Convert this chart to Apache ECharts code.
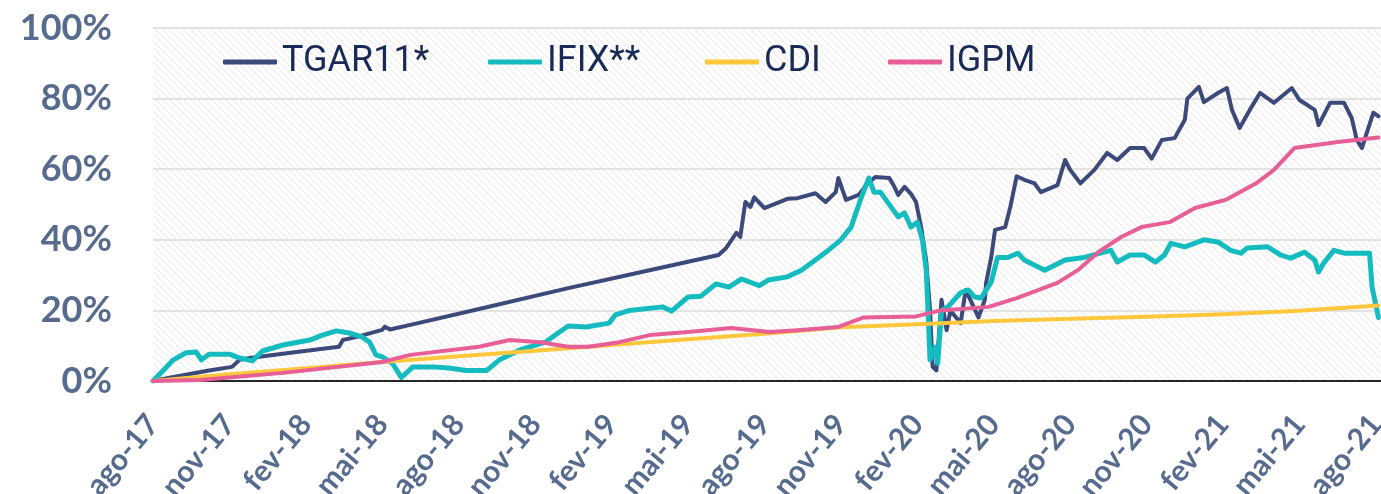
<!DOCTYPE html>
<html>
<head>
<meta charset="utf-8">
<script src="https://cdn.jsdelivr.net/npm/echarts@6.0.0/dist/echarts.min.js"></script>
<style>
  html, body { margin: 0; padding: 0; background: #fff; }
  #chart { width: 1381px; height: 494px; }
</style>
</head>
<body>
<div id="chart"></div>
<script>
// x = months since ago-17
const tickLabels = ["ago-17", "nov-17", "fev-18", "mai-18", "ago-18", "nov-18", "fev-19", "mai-19",
  "ago-19", "nov-19", "fev-20", "mai-20", "ago-20", "nov-20", "fev-21", "mai-21", "ago-21"];

const yTicks = [0, 20, 40, 60, 80, 100];

const tgarData = [
  [0, 0], [0.7, 1], [2.2, 3], [3.1, 4], [3.4, 6], [3.8, 6.5], [5.4, 8], [7.3, 9.7], [7.45, 11.6],
  [8.0, 12.5], [9.0, 14.5], [9.1, 15.4], [9.3, 14.6], [10.1, 15.9], [12.8, 20.4], [16.3, 26.3],
  [19.0, 30.6], [22.2, 35.7], [22.5, 37.7], [22.9, 42], [23.05, 40.8], [23.25, 50.7], [23.45, 49.3],
  [23.6, 52], [24.0, 49], [24.9, 51.6], [25.3, 51.8], [26.0, 53.2], [26.4, 50.7], [26.8, 53.5],
  [26.9, 57.5], [27.2, 51.3], [27.7, 52.7], [28.0, 55.5], [28.35, 57.8], [28.9, 57.5], [29.1, 55],
  [29.25, 52.7], [29.5, 55], [29.75, 53], [29.95, 50.7], [30.15, 43.6], [30.35, 34], [30.5, 20],
  [30.6, 4], [30.75, 3], [30.95, 23], [31.15, 14.4], [31.3, 20], [31.7, 16.4], [31.9, 25.8],
  [32.4, 18], [32.65, 23], [32.7, 27.8], [32.9, 35], [33.05, 42.8], [33.45, 43.6], [33.65, 49.3],
  [33.9, 58], [34.2, 57], [34.6, 56], [34.85, 53.5], [35.5, 55.5], [35.8, 62.6], [36.0, 59.8],
  [36.4, 56], [36.95, 59.8], [37.45, 64.6], [37.85, 62.6], [38.35, 66], [38.9, 66], [39.2, 63],
  [39.6, 68.3], [40.1, 68.8], [40.5, 74], [40.6, 80], [41.05, 83.3], [41.25, 79], [41.8, 81.6],
  [42.15, 83], [42.35, 76.8], [42.65, 71.7], [43.05, 76.8], [43.45, 81.6], [44.0, 78.8], [44.7, 83],
  [45.0, 79.6], [45.6, 76.8], [45.75, 72.5], [46.2, 78.8], [46.75, 78.8], [47.05, 74.5], [47.25, 68.3],
  [47.45, 66], [47.65, 70.5], [47.9, 76], [48.1, 75]
];

const ifixData = [
  [0, 0], [0.4, 3], [0.8, 6], [1.3, 8], [1.7, 8.2], [1.9, 6], [2.2, 7.6], [3.0, 7.6], [3.4, 6.5],
  [3.9, 5.7], [4.3, 8.5], [5.1, 10.2], [6.15, 11.6], [6.65, 13], [7.2, 14.2], [7.7, 13.6], [8.2, 12.5],
  [8.5, 11], [8.75, 7.4], [9.0, 6.8], [9.4, 5], [9.75, 1], [10.2, 4], [11.0, 4], [11.6, 3.7],
  [12.3, 3], [13.1, 3], [13.6, 6], [14.4, 8.8], [15.4, 11], [15.9, 13.6], [16.3, 15.6], [17.0, 15.3],
  [17.9, 16.4], [18.15, 18.7], [18.7, 20], [20.0, 21], [20.35, 19.8], [21.0, 23.8], [21.5, 24],
  [22.1, 27.5], [22.6, 26.6], [23.1, 28.9], [23.8, 27], [24.15, 28.6], [24.9, 29.5], [25.45, 31.4],
  [26.0, 34.3], [26.5, 37], [27.0, 40], [27.4, 43.6], [27.8, 52], [28.1, 57.5], [28.3, 53.5],
  [28.55, 53.5], [29.25, 46.5], [29.5, 47.6], [29.75, 43.6], [30.0, 45], [30.2, 40], [30.35, 31.4],
  [30.42, 20], [30.5, 6], [30.7, 9.6], [30.8, 5], [30.95, 20], [31.2, 21], [31.7, 25], [32.0, 25.8],
  [32.25, 23.8], [32.5, 23.5], [32.9, 28], [33.15, 35], [33.55, 35], [33.95, 36.2], [34.2, 34.3],
  [35.0, 31.4], [35.8, 34.3], [36.55, 35], [37.6, 37], [37.85, 33.7], [38.35, 35.7], [38.9, 35.7],
  [39.35, 33.7], [39.7, 35.7], [39.95, 39], [40.5, 38], [41.25, 40], [41.8, 39.4], [42.3, 37],
  [42.7, 36.2], [42.95, 37.7], [43.75, 38], [44.25, 35.7], [44.65, 34.8], [45.2, 36.5], [45.6, 34.3],
  [45.75, 30.9], [45.95, 33.4], [46.35, 37], [46.75, 36.2], [47.75, 36.2], [47.85, 26.6], [48.1, 18]
];

const cdiData = [
  [0, 0], [3, 1.9], [6, 3.6], [9, 5.4], [12, 7.0], [15, 8.6], [18, 10.2], [21, 11.8], [24, 13.4],
  [27, 15.2], [30, 16.1], [33, 17.0], [36, 17.6], [39, 18.2], [42, 18.9], [45, 19.9], [48.1, 21.4]
];

const igpmData = [
  [0, 0], [1.85, 0.3], [5.1, 2.3], [9.0, 5.4], [10.1, 7.4], [12.8, 9.7], [14.0, 11.6], [15.2, 11],
  [16.3, 9.7], [17.1, 9.7], [18.3, 11], [19.5, 13], [21.0, 13.9], [22.7, 15], [24.2, 13.9],
  [25.3, 14.4], [26.9, 15.3], [27.9, 18], [29.95, 18.3], [30.9, 20], [32.8, 21], [33.9, 23.5],
  [35.5, 27.8], [36.3, 31.4], [37.1, 36.5], [38.0, 40.8], [38.8, 43.6], [39.9, 45], [40.9, 49],
  [42.1, 51.3], [43.3, 56], [44.0, 59.8], [44.8, 66], [46.5, 67.7], [48.1, 69]
];

const seriesNames = ["TGAR11*", "IFIX**", "CDI", "IGPM"];
const seriesColors = ["#3b4a7b", "#14bcc0", "#ffc73c", "#e85e96"];
const seriesWidths = [4, 5, 4, 4];
const seriesValues = [tgarData, ifixData, cdiData, igpmData];
const legendLeft = [218, 483, 700, 883];

// faint diagonal hatch behind the plot
const hatch = document.createElement("canvas");
hatch.width = 7;
hatch.height = 7;
const hctx = hatch.getContext("2d");
hctx.fillStyle = "#ffffff";
hctx.fillRect(0, 0, 7, 7);
hctx.strokeStyle = "#ececec";
hctx.lineWidth = 1.2;
hctx.beginPath();
hctx.moveTo(-1, -1);
hctx.lineTo(8, 8);
hctx.moveTo(-8, -1);
hctx.lineTo(1, 8);
hctx.moveTo(6, -1);
hctx.lineTo(15, 8);
hctx.stroke();

const axisColor = "#566b8e";

const chart = echarts.init(document.getElementById("chart"), null, { renderer: "canvas" });

chart.setOption({
  animation: false,
  backgroundColor: "#ffffff",
  grid: {
    left: 153,
    right: 0,
    top: 28,
    bottom: 113,
    outerBoundsMode: "none",
    containLabel: false,
    show: true,
    borderWidth: 0,
    backgroundColor: { image: hatch, repeat: "repeat" },
  },
  legend: seriesNames.map((name, i) => ({
    data: [name],
    left: legendLeft[i],
    top: 39,
    icon: "roundRect",
    itemWidth: 54,
    itemHeight: 5,
    itemStyle: { color: seriesColors[i], borderWidth: 0 },
    textStyle: {
      fontFamily: "Roboto, 'Liberation Sans', sans-serif",
      fontSize: 36,
      color: "#182a55",
    },
  })),
  xAxis: {
    type: "value",
    min: 0,
    max: 48.2,
    interval: 3,
    splitLine: { show: false },
    axisTick: { show: false },
    axisLine: { show: true, onZero: true, lineStyle: { color: "#262626", width: 2 } },
    axisLabel: {
      rotate: 50,
      margin: 38,
      showMaxLabel: false,
      hideOverlap: false,
      fontFamily: "Lato, 'Open Sans', sans-serif",
      fontWeight: "bold",
      fontSize: 30,
      color: axisColor,
      formatter: (v) => {
        const i = Math.round(v / 3);
        return Math.abs(v - i * 3) < 0.01 ? tickLabels[i] : "";
      },
    },
  },
  yAxis: {
    type: "value",
    min: yTicks[0],
    max: yTicks[yTicks.length - 1],
    interval: 20,
    axisLine: { show: false },
    axisTick: { show: false },
    splitLine: { lineStyle: { color: "#e3e3e3", width: 2 } },
    axisLabel: {
      margin: 41,
      fontFamily: "Lato, 'Open Sans', sans-serif",
      fontWeight: "bold",
      fontSize: 36,
      color: axisColor,
      formatter: "{value}%",
    },
  },
  series: seriesNames.map((name, i) => ({
    name: name,
    type: "line",
    data: seriesValues[i],
    symbol: "none",
    smooth: false,
    color: seriesColors[i],
    lineStyle: { width: seriesWidths[i], color: seriesColors[i], cap: "round", join: "round" },
    z: 2 + i,
  })),
});
</script>
</body>
</html>
